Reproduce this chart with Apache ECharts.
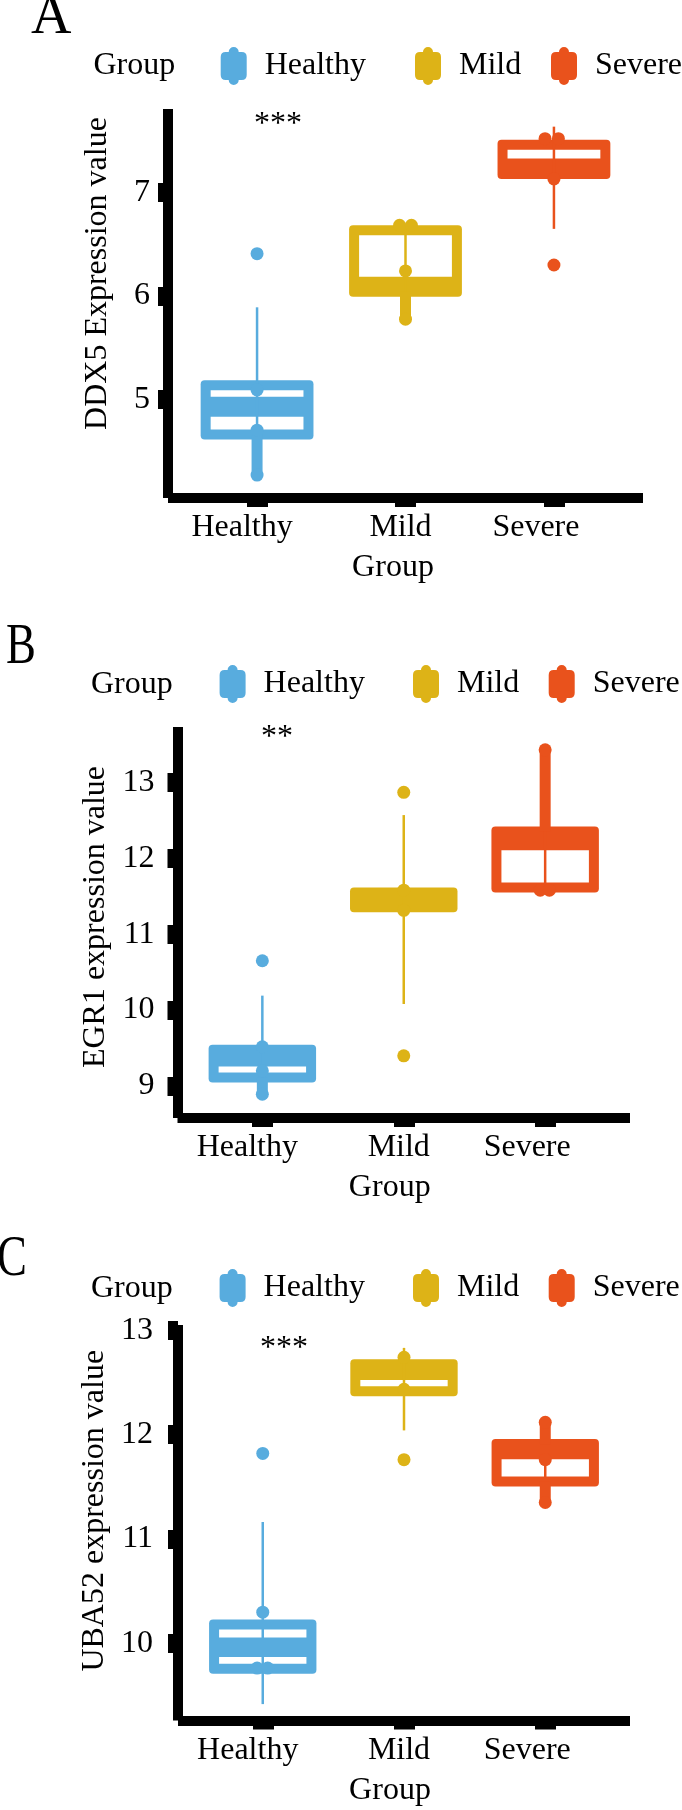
<!DOCTYPE html>
<html>
<head>
<meta charset="utf-8">
<script src="https://cdn.jsdelivr.net/npm/echarts@6.0.0/dist/echarts.min.js"></script>
<style>
html,body{margin:0;padding:0;background:#ffffff;}
#chart{width:682px;height:1810px;}
</style>
</head>
<body>
<div id="chart"></div>
<script>
// ---------------- data ----------------
const groups = ['Healthy', 'Mild', 'Severe'];
const groupPos = [1, 2, 3];
const legendTitle = 'Group';
const xTitle = 'Group';
const panelLetters = ['A', 'B', 'C'];
const yTitles = ['DDX5 Expression value', 'EGR1 expression value', 'UBA52 expression value'];
const significance = ['***', '**', '***'];

const ddx5Ticks = [5, 6, 7];
const egr1Ticks = [9, 10, 11, 12, 13];
const uba52Ticks = [10, 11, 12, 13];

// box rows: [whiskerLow, q1, medianBandLow, medianBandHigh, q3, whiskerHigh]
const ddx5Box = [
  [4.265, 4.659, 4.83, 5.023, 5.136, 5.89],
  [5.775, 6.04, 6.04, 6.185, 6.637, 6.685],
  [6.65, 7.182, 7.182, 7.332, 7.464, 7.64]
];
const egr1Box = [
  [8.89, 9.112, 9.255, 9.476, 9.476, 10.19],
  [10.08, 11.355, 11.355, 11.55, 11.55, 12.57],
  [11.58, 11.616, 12.108, 12.355, 12.355, 13.43]
];
const uba52Box = [
  [9.42, 9.758, 9.87, 10.057, 10.183, 11.163],
  [12.04, 12.415, 12.523, 12.673, 12.673, 12.83],
  [11.35, 11.55, 11.763, 11.909, 11.909, 12.117]
];

// sample points: [x (group position with jitter), value]
const ddx5Points = [
  [[1, 6.41], [1, 5.09], [1, 4.70], [1, 4.265]],
  [[1.96, 6.685], [2.04, 6.685], [2, 6.243], [2, 5.775]],
  [[2.94, 7.524], [3.03, 7.524], [3, 7.134], [3, 6.30]]
];
const egr1Points = [
  [[1, 10.65], [1, 9.515], [1, 9.2], [1, 8.89]],
  [[2, 12.87], [2, 11.58], [2, 11.315], [2, 9.396]],
  [[3, 13.43], [2.965, 11.58], [3.03, 11.58]]
];
const uba52Points = [
  [[1, 11.82], [1, 10.30], [0.96, 9.765], [1.035, 9.765]],
  [[2, 12.74], [2, 12.434], [2, 11.76]],
  [[3, 12.117], [3, 11.76], [3, 11.35]]
];

// ---------------- styles / layout ----------------
const FONT = '"Liberation Serif", "Times New Roman", serif';
const colors = ['#58ACDE', '#DDB317', '#E9521C'];
const BOX_W = 0.76;
const BORDER = 10;

const panels = [
  { box: ddx5Box, pts: ddx5Points, ticks: ddx5Ticks, yMin: 4.043, yMax: 7.811,
    thick: [[true, false], [true, false], [false, false]],
    grid: { left: 168, top: 109, width: 475, height: 389 },
    yLabelMargin: 18, yLabelPad: [7, 0, 0, 0], yNameGap: 54, yNamePad: [0, 0, 0, 60], xNamePad: [0, 25, 0, 0],
    legendLeft: [220.7, 415, 551], legendTop: 47, groupText: [93.5, 66],
    letter: { x: 31, y: 18, scaleX: 1 }, star: [278, 125] },
  { box: egr1Box, pts: egr1Points, ticks: egr1Ticks, yMin: 8.577, yMax: 13.731,
    thick: [[true, false], [false, false], [false, true]],
    grid: { left: 177.5, top: 727, width: 452.5, height: 391 },
    yLabelMargin: 23, yLabelPad: [0, 0, 0, 0], yNameGap: 63.5, yNamePad: [0, 0, 0, 11], xNamePad: [0, 28, 0, 0],
    legendLeft: [219.6, 413, 548.7], legendTop: 665, groupText: [91, 685],
    letter: { x: 6, y: 648, scaleX: 0.8 }, star: [277, 738] },
  { box: uba52Box, pts: uba52Points, ticks: uba52Ticks, yMin: 9.263, yMax: 13.049,
    thick: [[false, false], [false, false], [true, true]],
    grid: { left: 178, top: 1325, width: 452, height: 395.5 },
    yLabelMargin: 25, yLabelPad: [0, 0, 0, 0], yNameGap: 64, yNamePad: [0, 0, 0, 24], xNamePad: [0, 28, 0, 0],
    legendLeft: [219.6, 413, 548.7], legendTop: 1269, groupText: [91, 1289],
    letter: { x: -3, y: 1260, scaleX: 0.8 }, star: [284, 1349] }
];

const legendIcon = 'path://M5 5 L21 5 Q26 5 26 10 L26 28 Q26 33 21 33 L5 33 Q0 33 0 28 L0 10 Q0 5 5 5 Z M8 5 A5 5 0 0 1 18 5 Z M8 33 A5 5 0 0 0 18 33 Z';

function makeRenderer(thickLow, thickHigh) {
  return function (params, api) {
    const x = api.value(0);
    const low = api.value(1), q1 = api.value(2), bLo = api.value(3),
          bHi = api.value(4), q3 = api.value(5), high = api.value(6);
    const color = api.visual('color');
    const cx = api.coord([x, q1])[0];
    const halfW = api.size([BOX_W, 0])[0] / 2;
    const yLow = api.coord([x, low])[1];
    const yQ1 = api.coord([x, q1])[1];
    const yBLo = api.coord([x, bLo])[1];
    const yBHi = api.coord([x, bHi])[1];
    const yQ3 = api.coord([x, q3])[1];
    const yHigh = api.coord([x, high])[1];
    const h = BORDER / 2;
    const children = [];
    children.push({ type: 'rect',
      shape: { x: cx - halfW, y: yQ3 - h, width: 2 * halfW, height: yQ1 - yQ3 + BORDER, r: 4 },
      style: { fill: color } });
    const inL = cx - halfW + BORDER, inW = 2 * halfW - 2 * BORDER;
    const topIn = yQ3 + h, botIn = yQ1 - h;
    if (yBHi - topIn > 0.5) {
      children.push({ type: 'rect', shape: { x: inL, y: topIn, width: inW, height: yBHi - topIn }, style: { fill: '#ffffff' } });
    }
    if (botIn - yBLo > 0.5) {
      children.push({ type: 'rect', shape: { x: inL, y: yBLo, width: inW, height: botIn - yBLo }, style: { fill: '#ffffff' } });
    }
    children.push({ type: 'line', shape: { x1: cx, y1: yLow, x2: cx, y2: yHigh }, style: { stroke: color, lineWidth: 2.5 } });
    if (thickLow) {
      children.push({ type: 'rect', shape: { x: cx - 5.5, y: yQ1, width: 11, height: yLow - yQ1 }, style: { fill: color } });
    }
    if (thickHigh) {
      children.push({ type: 'rect', shape: { x: cx - 5.5, y: yHigh, width: 11, height: yQ3 - yHigh }, style: { fill: color } });
    }
    return { type: 'group', children: children };
  };
}

const grids = [], xAxes = [], yAxes = [], series = [], legends = [], graphics = [];

const xLabelRich = {
  g0: { fontFamily: FONT, fontSize: 32, color: '#000', padding: [0, 30, 0, 0] },
  g1: { fontFamily: FONT, fontSize: 32, color: '#000', padding: [0, 10, 0, 0] },
  g2: { fontFamily: FONT, fontSize: 32, color: '#000', padding: [0, 36, 0, 0] }
};

panels.forEach(function (p, pi) {
  grids.push(Object.assign({ containLabel: false, outerBoundsMode: 'none' }, p.grid));
  xAxes.push({
    type: 'value', gridIndex: pi, min: 0.4, max: 3.6,
    name: xTitle, nameLocation: 'middle', nameGap: 54,
    nameTextStyle: { fontFamily: FONT, fontSize: 32, color: '#000', padding: p.xNamePad },
    splitLine: { show: false },
    axisLine: { show: true, lineStyle: { color: '#000', width: 10, cap: 'butt' } },
    axisTick: { show: true, customValues: groupPos, length: 9, lineStyle: { color: '#000', width: 21 } },
    axisLabel: {
      customValues: groupPos, margin: 14, fontFamily: FONT, fontSize: 32, color: '#000',
      formatter: function (v) { const i = groupPos.indexOf(v); return '{g' + i + '|' + groups[i] + '}'; },
      rich: xLabelRich
    }
  });
  yAxes.push({
    type: 'value', gridIndex: pi, min: p.yMin, max: p.yMax,
    name: yTitles[pi], nameLocation: 'middle', nameGap: p.yNameGap, nameRotate: 90,
    nameTextStyle: { fontFamily: FONT, fontSize: 32, color: '#000', padding: p.yNamePad },
    splitLine: { show: false },
    axisLine: { show: true, lineStyle: { color: '#000', width: 10, cap: 'butt' } },
    axisTick: { show: true, customValues: p.ticks, length: 10, lineStyle: { color: '#000', width: 19 } },
    axisLabel: { customValues: p.ticks, margin: p.yLabelMargin, padding: p.yLabelPad,
      fontFamily: FONT, fontSize: 32, color: '#000' }
  });
  groups.forEach(function (g, gi) {
    series.push({
      type: 'custom', name: g, xAxisIndex: pi, yAxisIndex: pi,
      itemStyle: { color: colors[gi] },
      data: [[groupPos[gi]].concat(p.box[gi])],
      encode: { x: 0, y: [1, 2, 3, 4, 5, 6] },
      renderItem: makeRenderer(p.thick[gi][0], p.thick[gi][1]),
      clip: false, silent: true, z: 2
    });
    series.push({
      type: 'scatter', name: g, xAxisIndex: pi, yAxisIndex: pi,
      data: p.pts[gi], symbol: 'circle', symbolSize: 13,
      itemStyle: { color: colors[gi], opacity: 1 },
      silent: true, z: 3
    });
    legends.push({
      left: p.legendLeft[gi], top: p.legendTop, padding: 0, orient: 'horizontal',
      data: [g], icon: legendIcon, itemWidth: 26, itemHeight: 38, itemGap: 0,
      selectedMode: false, itemStyle: { borderWidth: 0 },
      formatter: '{s| }{n|{name}}',
      textStyle: {
        fontFamily: FONT, fontSize: 32, color: '#000',
        rich: {
          s: { width: 13, fontFamily: FONT, fontSize: 32 },
          n: { fontFamily: FONT, fontSize: 32, color: '#000' }
        }
      }
    });
  });
  graphics.push({ type: 'text', x: p.groupText[0], y: p.groupText[1],
    style: { text: legendTitle, fontFamily: FONT, fontSize: 32, fill: '#000', align: 'left', verticalAlign: 'middle' } });
  graphics.push({ type: 'text', x: p.letter.x, y: p.letter.y, scaleX: p.letter.scaleX,
    style: { text: panelLetters[pi], fontFamily: FONT, fontSize: 56, fill: '#000', align: 'left', verticalAlign: 'middle' } });
  graphics.push({ type: 'text', x: p.star[0], y: p.star[1],
    style: { text: significance[pi], fontFamily: FONT, fontSize: 32, fill: '#000', align: 'center', verticalAlign: 'middle' } });
});

const chart = echarts.init(document.getElementById('chart'), null, { renderer: 'canvas' });
chart.setOption({
  animation: false,
  backgroundColor: '#ffffff',
  grid: grids,
  xAxis: xAxes,
  yAxis: yAxes,
  legend: legends,
  graphic: graphics,
  series: series
});
</script>
</body>
</html>
